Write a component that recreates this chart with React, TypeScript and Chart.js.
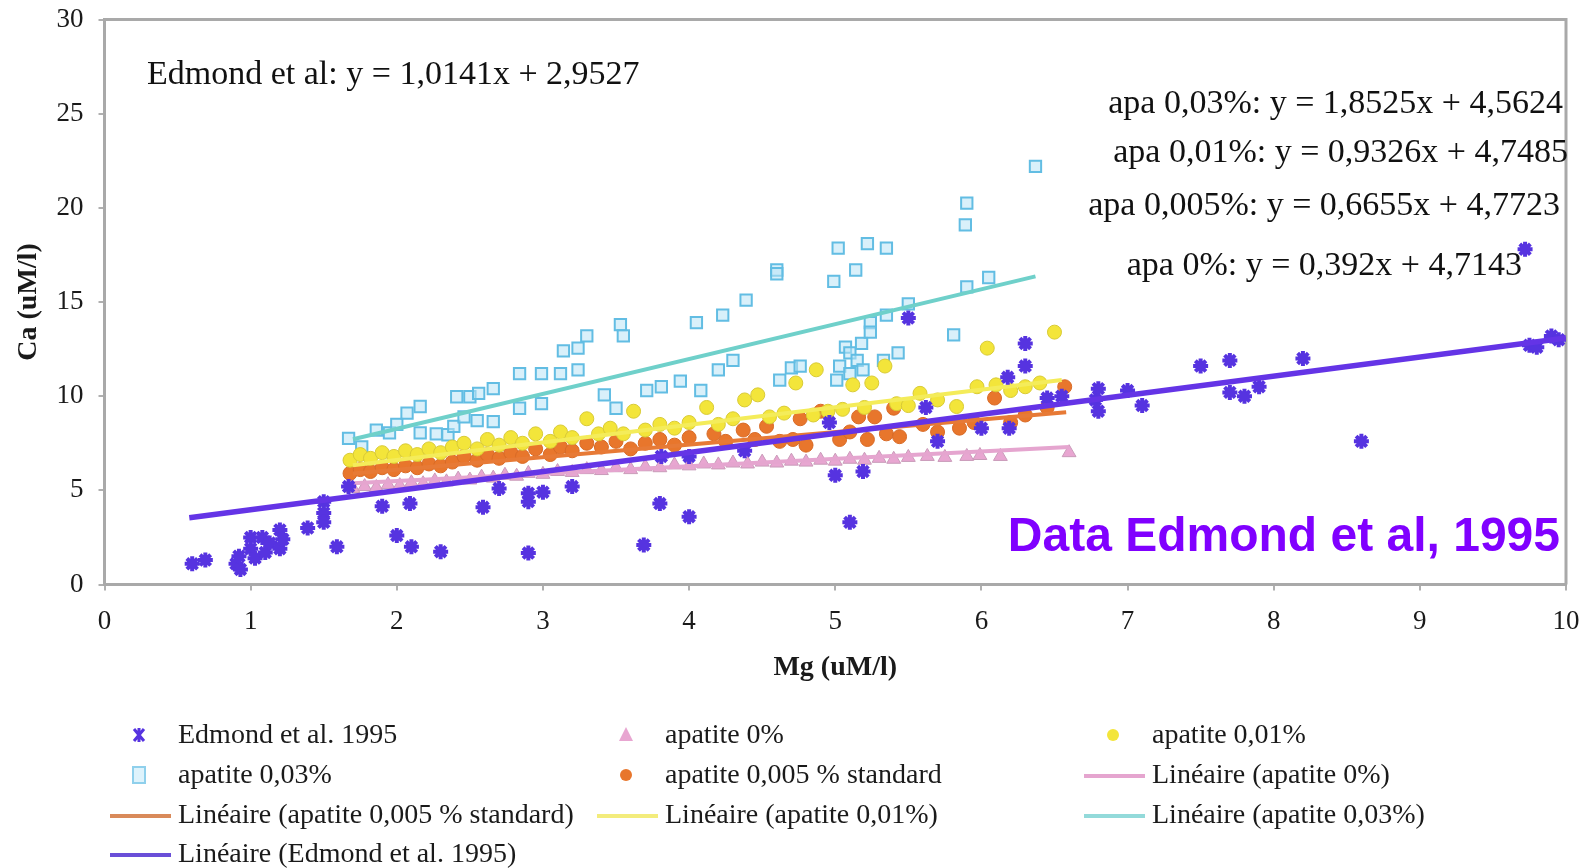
import React, { useEffect, useRef } from "react";
import { Chart, registerables } from "chart.js";

Chart.register(...registerables);

const SERIF = "'Liberation Serif', 'Times New Roman', serif";
const SANS = "'Liberation Sans', Arial, sans-serif";

const xTickLabels = ["0", "1", "2", "3", "4", "5", "6", "7", "8", "9", "10"];
const yTickLabels = ["0", "5", "10", "15", "20", "25", "30"];

const edmondPoints: [number, number][] = [
  [0.6, 1.1], [0.69, 1.3], [0.9, 1.1], [0.92, 1.5], [0.93, 0.8], [1.0, 2.5], [1.0, 1.9],
  [1.03, 1.4], [1.08, 2.5], [1.1, 1.7], [1.13, 2.2], [1.2, 2.9], [1.2, 1.9], [1.22, 2.4],
  [1.39, 3.0], [1.5, 4.4], [1.5, 3.8], [1.5, 3.3], [1.59, 2.0], [1.67, 5.2], [1.9, 4.15],
  [2.0, 2.6], [2.09, 4.3], [2.1, 2.0], [2.3, 1.74], [2.59, 4.1], [2.7, 5.1], [2.9, 1.67],
  [2.9, 4.4], [2.9, 4.85], [3.0, 4.9], [3.2, 5.2], [3.69, 2.1], [3.8, 4.3], [3.81, 6.8],
  [4.0, 3.6], [4.0, 6.8], [4.38, 7.1], [4.96, 8.6], [5.0, 5.8], [5.1, 3.3], [5.19, 6.0],
  [5.5, 14.15], [5.62, 9.4], [5.7, 7.6], [6.0, 8.3], [6.18, 11.0], [6.19, 8.3], [6.3, 12.8],
  [6.3, 11.6], [6.45, 9.9], [6.55, 10.0], [6.78, 9.8], [6.8, 10.4], [6.8, 9.2], [7.0, 10.3],
  [7.1, 9.5], [7.5, 11.6], [7.7, 11.9], [7.7, 10.2], [7.8, 10.0], [7.9, 10.5], [8.2, 12.0],
  [8.6, 7.6], [9.72, 17.8], [9.75, 12.7], [9.8, 12.6], [9.9, 13.2], [9.95, 13.0],
];

const apatite0Points: [number, number][] = [
  [1.7, 5.1], [1.78, 5.2], [1.86, 5.15], [1.94, 5.3], [2.02, 5.25], [2.1, 5.4], [2.18, 5.35],
  [2.26, 5.5], [2.34, 5.45], [2.42, 5.6], [2.5, 5.55], [2.58, 5.7], [2.66, 5.65], [2.74, 5.8],
  [2.82, 5.75], [2.9, 5.9], [3.0, 5.85], [3.1, 6.0], [3.2, 5.95], [3.3, 6.1], [3.4, 6.05],
  [3.5, 6.2], [3.6, 6.1], [3.7, 6.25], [3.8, 6.2], [3.9, 6.35], [4.0, 6.3], [4.1, 6.4],
  [4.2, 6.35], [4.3, 6.45], [4.4, 6.4], [4.5, 6.5], [4.6, 6.45], [4.7, 6.55], [4.8, 6.5],
  [4.9, 6.6], [5.0, 6.55], [5.1, 6.65], [5.2, 6.6], [5.3, 6.7], [5.4, 6.65], [5.5, 6.75],
  [5.63, 6.8], [5.75, 6.75], [5.9, 6.8], [5.99, 6.85], [6.13, 6.8], [6.6, 7.0],
];

const apatite001Points: [number, number][] = [
  [1.68, 6.6], [1.75, 6.9], [1.82, 6.7], [1.9, 7.0], [1.98, 6.8], [2.06, 7.1], [2.14, 6.9],
  [2.22, 7.2], [2.3, 7.0], [2.38, 7.3], [2.46, 7.5], [2.55, 7.2], [2.62, 7.7], [2.7, 7.4],
  [2.78, 7.8], [2.86, 7.5], [2.95, 8.0], [3.05, 7.6], [3.12, 8.1], [3.2, 7.8], [3.3, 8.8],
  [3.38, 8.0], [3.46, 8.3], [3.55, 8.0], [3.62, 9.2], [3.7, 8.2], [3.8, 8.5], [3.9, 8.3],
  [4.0, 8.6], [4.12, 9.4], [4.2, 8.5], [4.3, 8.8], [4.38, 9.8], [4.47, 10.07], [4.55, 8.9],
  [4.65, 9.1], [4.73, 10.7], [4.85, 9.0], [4.87, 11.4], [4.95, 9.2], [5.05, 9.3], [5.12, 10.6],
  [5.2, 9.4], [5.25, 10.7], [5.34, 11.6], [5.42, 9.6], [5.5, 9.5], [5.58, 10.15], [5.7, 9.8],
  [5.83, 9.45], [5.97, 10.5], [6.04, 12.55], [6.1, 10.6], [6.2, 10.3], [6.3, 10.5],
  [6.4, 10.7], [6.5, 13.4],
];

const apatite003Points: [number, number][] = [
  [1.67, 7.76], [1.76, 7.3], [1.86, 8.2], [1.95, 8.05], [2.0, 8.5], [2.07, 9.1], [2.16, 9.45],
  [2.16, 8.05], [2.27, 8.0], [2.35, 7.95], [2.39, 8.4], [2.41, 9.97], [2.46, 8.9], [2.5, 9.97],
  [2.55, 8.7], [2.56, 10.15], [2.66, 10.4], [2.66, 8.65], [2.84, 11.2], [2.84, 9.36],
  [2.99, 11.2], [2.99, 9.6], [3.12, 11.2], [3.14, 12.4], [3.24, 12.55], [3.24, 11.4],
  [3.3, 13.2], [3.42, 10.07], [3.5, 9.36], [3.53, 13.8], [3.55, 13.2], [3.71, 10.3],
  [3.81, 10.5], [3.94, 10.8], [4.05, 13.9], [4.08, 10.3], [4.2, 11.4], [4.23, 14.3],
  [4.3, 11.9], [4.39, 15.1], [4.6, 16.7], [4.6, 16.5], [4.62, 10.85], [4.7, 11.5],
  [4.76, 11.6], [4.99, 16.1], [5.01, 10.85], [5.02, 17.86], [5.03, 11.6], [5.07, 12.6],
  [5.1, 12.3], [5.1, 11.2], [5.14, 16.7], [5.15, 11.9], [5.18, 12.8], [5.19, 11.4],
  [5.22, 18.1], [5.24, 13.9], [5.24, 13.4], [5.33, 11.9], [5.35, 17.86], [5.35, 14.3],
  [5.43, 12.3], [5.5, 14.9], [5.81, 13.25], [5.89, 19.1], [5.9, 20.25], [5.9, 15.8],
  [6.05, 16.3], [6.37, 22.2],
];

const apatite0005Points: [number, number][] = [
  [1.68, 5.9], [1.75, 6.1], [1.82, 6.0], [1.9, 6.2], [1.98, 6.1], [2.06, 6.3], [2.14, 6.2],
  [2.22, 6.4], [2.3, 6.3], [2.38, 6.5], [2.46, 6.8], [2.55, 6.6], [2.62, 6.9], [2.7, 6.7],
  [2.78, 7.0], [2.86, 6.8], [2.95, 7.2], [3.05, 6.9], [3.12, 7.3], [3.2, 7.1], [3.3, 7.5],
  [3.4, 7.3], [3.5, 7.6], [3.6, 7.2], [3.7, 7.5], [3.8, 7.7], [3.9, 7.4], [4.0, 7.8],
  [4.17, 8.0], [4.25, 7.6], [4.37, 8.2], [4.45, 7.7], [4.53, 8.4], [4.62, 7.6], [4.71, 7.7],
  [4.76, 8.8], [4.8, 7.4], [4.9, 9.2], [5.03, 7.7], [5.1, 8.1], [5.16, 8.9], [5.22, 7.7],
  [5.27, 8.9], [5.35, 8.0], [5.4, 9.36], [5.44, 7.85], [5.6, 8.5], [5.7, 8.1], [5.85, 8.3],
  [5.95, 8.6], [6.09, 9.9], [6.2, 8.6], [6.3, 9.0], [6.45, 9.4], [6.57, 10.5],
];

const trendApatite0: [number, number][] = [[1.7, 5.38], [6.6, 7.3]];
const trendApatite0005: [number, number][] = [[1.7, 5.9], [6.58, 9.15]];
const trendApatite001: [number, number][] = [[1.7, 6.33], [6.55, 10.86]];
const trendApatite003: [number, number][] = [[1.7, 7.71], [6.37, 16.36]];
const trendEdmond: [number, number][] = [[0.58, 3.54], [10, 13.09]];

const equationEdmond = "Edmond et al: y = 1,0141x + 2,9527";
const equationsRight = [
  "apa 0,03%: y = 1,8525x + 4,5624",
  "apa 0,01%: y = 0,9326x + 4,7485",
  "apa 0,005%: y = 0,6655x + 4,7723",
  "apa 0%: y = 0,392x + 4,7143",
];
const sourceNote = "Data Edmond et al, 1995";

const legendLabels = [
  "Edmond et al. 1995",
  "apatite 0%",
  "apatite 0,01%",
  "apatite 0,03%",
  "apatite 0,005 % standard",
  "Linéaire (apatite 0%)",
  "Linéaire (apatite 0,005 % standard)",
  "Linéaire (apatite 0,01%)",
  "Linéaire (apatite 0,03%)",
  "Linéaire (Edmond et al. 1995)",
];

const C = {
  edmond: "#5633e0",
  edmondLine: "#6434e6",
  pink: "#e8a6d1",
  pinkLine: "#e5a5cf",
  yellow: "#f3e53a",
  yellowLine: "#f4ec5a",
  orange: "#e8762c",
  orangeLine: "#e77a36",
  blue: "#62bde3",
  teal: "#6fd0ca",
};

const toXY = (arr: [number, number][]) => arr.map(([x, y]) => ({ x, y }));

const framePlugin = {
  id: "frame",
  beforeDatasetsDraw(chart: any) {
    const { ctx, chartArea } = chart;
    ctx.save();
    ctx.strokeStyle = "#a9a9a9";
    ctx.lineWidth = 3;
    ctx.beginPath();
    ctx.moveTo(chartArea.left, chartArea.top);
    ctx.lineTo(chartArea.right, chartArea.top);
    ctx.lineTo(chartArea.right, chartArea.bottom);
    ctx.stroke();
    ctx.restore();
  },
};

const textPlugin = {
  id: "texts",
  afterDraw(chart: any) {
    const { ctx } = chart;
    ctx.save();
    ctx.fillStyle = "#111";
    ctx.font = `34px ${SERIF}`;
    ctx.textBaseline = "alphabetic";
    ctx.textAlign = "left";
    ctx.fillText(equationEdmond, 147, 84);
    ctx.textAlign = "right";
    const rx = [1563, 1568, 1560, 1522];
    const ry = [113, 162, 215, 275];
    equationsRight.forEach((t, i) => ctx.fillText(t, rx[i], ry[i]));
    ctx.font = `bold 48px ${SANS}`;
    ctx.fillStyle = "#8000ff";
    ctx.fillText(sourceNote, 1560, 551);
    ctx.restore();
  },
};

function drawMarker(ctx: CanvasRenderingContext2D, kind: string, x: number, y: number) {
  ctx.save();
  if (kind === "star") {
    ctx.strokeStyle = C.edmond;
    ctx.lineWidth = 3;
    ctx.beginPath();
    ctx.moveTo(x - 5, y - 6); ctx.lineTo(x + 5, y + 6);
    ctx.moveTo(x + 5, y - 6); ctx.lineTo(x - 5, y + 6);
    ctx.moveTo(x, y - 7); ctx.lineTo(x, y + 7);
    ctx.stroke();
  } else if (kind === "triangle") {
    ctx.fillStyle = C.pink;
    ctx.beginPath();
    ctx.moveTo(x, y - 8); ctx.lineTo(x + 7, y + 6); ctx.lineTo(x - 7, y + 6);
    ctx.closePath();
    ctx.fill();
  } else if (kind === "yellow" || kind === "orange") {
    ctx.fillStyle = kind === "yellow" ? C.yellow : C.orange;
    ctx.beginPath();
    ctx.arc(x, y, 6, 0, Math.PI * 2);
    ctx.fill();
  } else if (kind === "square") {
    ctx.strokeStyle = "#8fd0ec";
    ctx.fillStyle = "rgba(200,235,250,0.6)";
    ctx.lineWidth = 2;
    ctx.fillRect(x - 6, y - 8, 12, 16);
    ctx.strokeRect(x - 6, y - 8, 12, 16);
  }
  ctx.restore();
}

const legendKinds = [
  { kind: "star" }, { kind: "triangle" }, { kind: "yellow" },
  { kind: "square" }, { kind: "orange" }, { line: C.pinkLine },
  { line: "#d98a5a" }, { line: "#f3ec7c" }, { line: "#93dada" },
  { line: "#6a4fd8" },
];

const legendPlugin = {
  id: "customLegend",
  afterDraw(chart: any) {
    const { ctx } = chart;
    const colMarker = [139, 626, 1113];
    const colLine = [[110, 171], [597, 658], [1084, 1145]];
    const colText = [178, 665, 1152];
    const rowY = [735, 775, 815, 854];
    ctx.save();
    ctx.font = `28px ${SERIF}`;
    ctx.textBaseline = "middle";
    ctx.textAlign = "left";
    legendLabels.forEach((label, i) => {
      const col = i % 3;
      const row = Math.floor(i / 3);
      const y = rowY[row];
      const k: any = legendKinds[i];
      if (k.kind) {
        drawMarker(ctx, k.kind, colMarker[col], y);
      } else {
        ctx.save();
        ctx.strokeStyle = k.line;
        ctx.lineWidth = 4;
        ctx.beginPath();
        ctx.moveTo(colLine[col][0], y + 1);
        ctx.lineTo(colLine[col][1], y + 1);
        ctx.stroke();
        ctx.restore();
      }
      ctx.fillStyle = "#1a1a1a";
      ctx.fillText(label, colText[col], y + 1);
    });
    ctx.restore();
  },
};

function lineDataset(label: string, pts: [number, number][], color: string, width: number, order: number) {
  return {
    label,
    data: toXY(pts),
    showLine: true,
    borderColor: color,
    backgroundColor: color,
    borderWidth: width,
    pointRadius: 0,
    pointHoverRadius: 0,
    order,
  };
}

export default function App() {
  const ref = useRef<HTMLCanvasElement>(null);

  useEffect(() => {
    if (!ref.current) return;
    const chart = new Chart(ref.current, {
      type: "scatter",
      data: {
        datasets: [
          lineDataset("Linéaire (Edmond et al. 1995)", trendEdmond, C.edmondLine, 5.5, 0),
          {
            label: "Edmond et al. 1995",
            data: toXY(edmondPoints),
            pointStyle: "star",
            pointRadius: 7.5,
            borderWidth: 4,
            borderColor: C.edmond,
            backgroundColor: C.edmond,
            order: 1,
          },
          lineDataset("Linéaire (apatite 0%)", trendApatite0, C.pinkLine, 4, 2),
          lineDataset("Linéaire (apatite 0,005 % standard)", trendApatite0005, C.orangeLine, 4, 3),
          lineDataset("Linéaire (apatite 0,01%)", trendApatite001, C.yellowLine, 4, 4),
          lineDataset("Linéaire (apatite 0,03%)", trendApatite003, C.teal, 4, 5),
          {
            label: "apatite 0,01%",
            data: toXY(apatite001Points),
            pointStyle: "circle",
            pointRadius: 7,
            borderWidth: 1,
            borderColor: "#d8ca36",
            backgroundColor: C.yellow,
            order: 6,
          },
          {
            label: "apatite 0,005 % standard",
            data: toXY(apatite0005Points),
            pointStyle: "circle",
            pointRadius: 7,
            borderWidth: 1,
            borderColor: "#d86a26",
            backgroundColor: C.orange,
            order: 7,
          },
          {
            label: "apatite 0%",
            data: toXY(apatite0Points),
            pointStyle: "triangle",
            pointRadius: 8,
            borderWidth: 1,
            borderColor: "#c99bb9",
            backgroundColor: C.pink,
            order: 8,
          },
          {
            label: "apatite 0,03%",
            data: toXY(apatite003Points),
            pointStyle: "rect",
            pointRadius: 8,
            borderWidth: 2,
            borderColor: C.blue,
            backgroundColor: "rgba(185,228,246,0.55)",
            order: 9,
          },
        ],
      },
      options: {
        animation: false,
        responsive: false,
        maintainAspectRatio: false,
        events: [],
        layout: { padding: { left: 0, right: 25, top: 19.5, bottom: 183.5 } },
        plugins: {
          legend: { display: false },
          tooltip: { enabled: false },
        },
        scales: {
          x: {
            type: "linear",
            position: "bottom",
            min: 0,
            max: 10,
            ticks: {
              stepSize: 1,
              autoSkip: false,
              maxRotation: 0,
              color: "#1a1a1a",
              padding: 15,
              font: { family: SERIF, size: 27 },
              callback: (v: any) => xTickLabels[Math.round(Number(v))],
            },
            grid: {
              display: true,
              drawOnChartArea: false,
              drawTicks: true,
              tickLength: 6,
              color: "#b0b0b0",
              lineWidth: 2,
            },
            border: { display: true, color: "#a9a9a9", width: 3 },
            title: {
              display: true,
              text: "Mg (uM/l)",
              color: "#1a1a1a",
              font: { family: SERIF, size: 28, weight: "bold" },
              padding: { top: 0, bottom: 0 },
            },
            afterFit: (s: any) => {
              s.height = 100;
              s.paddingLeft = 0;
              s.paddingRight = 0;
            },
          },
          y: {
            type: "linear",
            min: 0,
            max: 30,
            ticks: {
              stepSize: 5,
              color: "#1a1a1a",
              padding: 15,
              font: { family: SERIF, size: 27 },
              callback: (v: any) => yTickLabels[Math.round(Number(v) / 5)],
            },
            grid: {
              display: true,
              drawOnChartArea: false,
              drawTicks: true,
              tickLength: 6,
              color: "#b0b0b0",
              lineWidth: 2,
            },
            border: { display: true, color: "#a9a9a9", width: 3 },
            title: {
              display: true,
              text: "Ca (uM/l)",
              color: "#1a1a1a",
              font: { family: SERIF, size: 28, weight: "bold" },
              padding: { top: 12, bottom: 0 },
            },
            afterFit: (s: any) => {
              s.width = 104.5;
              s.paddingTop = 0;
              s.paddingBottom = 0;
            },
          },
        },
      },
      plugins: [framePlugin, textPlugin, legendPlugin],
    } as any);
    return () => chart.destroy();
  }, []);

  return (
    <div style={{ position: "absolute", left: 0, top: 0, width: 1591, height: 868, background: "#fff" }}>
      <canvas ref={ref} width={1591} height={868} style={{ display: "block" }} />
    </div>
  );
}
